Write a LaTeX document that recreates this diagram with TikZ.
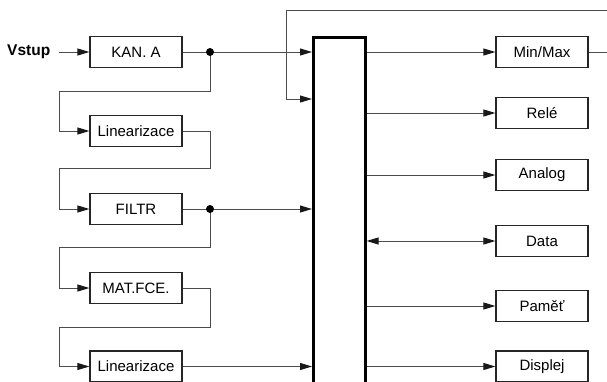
\documentclass[tikz,border=0pt]{standalone}
\usepackage{fontspec}
\setmainfont{Liberation Sans}
\usetikzlibrary{arrows.meta}
\begin{document}
\begin{tikzpicture}[x=1pt,y=-1pt,
  box/.style={draw=black!85, line width=1.2pt, minimum width=92pt, minimum height=31pt, inner sep=0pt, font=\fontsize{15}{18}\selectfont},
  conn/.style={draw=black!70, line width=1pt, -{Triangle[length=12pt,width=7pt,color=black!90]}},
  dot/.style={fill=black, draw=none}]
\useasboundingbox (0,0) rectangle (607,381);
\clip (0,0) rectangle (607,381);
% nodes left
\node[font=\fontsize{15.5}{18}\selectfont\bfseries, anchor=west, inner sep=0pt] (vstup) at (7,52) {Vstup};
\node[box] (kana) at (136,52) {KAN. A};
\node[box] (lin1) at (136,131) {Linearizace};
\node[box] (filtr) at (136,209) {FILTR};
\node[box] (mat) at (136,288) {MAT.FCE.};
\node[box] (lin2) at (136,366.5) {Linearizace};
% bus
\node[draw=black, line width=2.6pt, minimum width=52pt, minimum height=400pt, anchor=north west, inner sep=0pt] (bus) at (312,36) {};
% right boxes
\node[box] (minmax) at (542,52) {Min/Max};
\node[box] (rele) at (542,113) {Relé};
\node[box] (analog) at (542,175) {Analog};
\node[box] (data) at (542,241) {Data};
\node[box] (pamet) at (542,306) {Paměť};
\node[box] (displej) at (542,366.5) {Displej};
% junctions
\coordinate (j1) at (210,52);
\coordinate (j2) at (210,209);
\coordinate (in2) at (286,99);
% connectors left
\draw[conn] ([xshift=9pt]vstup.east) -- (kana.west);
\draw[conn] (kana.east) -- (kana.east -| bus.west);
\draw[conn] (j1) |- (59,91) |- (lin1.west);
\draw[conn] (lin1.east) -| (210,168) -- (59,168) |- (filtr.west);
\draw[conn] (filtr.east) -- (filtr.east -| bus.west);
\draw[conn] (j2) |- (59,247) |- (mat.west);
\draw[conn] (mat.east) -| (210,327) -- (59,327) |- (lin2.west);
\draw[conn] (lin2.east) -- (lin2.east -| bus.west);
\fill[dot] (j1) circle (4pt);
\fill[dot] (j2) circle (4pt);
% feedback
\draw[conn] (minmax.east) -- (625,52) -- (625,10) -| (in2) -- (in2 -| bus.west);
% right connectors
\draw[conn] (minmax.west -| bus.east) -- (minmax.west);
\draw[conn] (rele.west -| bus.east) -- (rele.west);
\draw[conn] (analog.west -| bus.east) -- (analog.west);
\draw[conn, {Triangle[length=12pt,width=7pt,color=black!90]}-{Triangle[length=12pt,width=7pt,color=black!90]}] (data.west -| bus.east) -- (data.west);
\draw[conn] (pamet.west -| bus.east) -- (pamet.west);
\draw[conn] (displej.west -| bus.east) -- (displej.west);
\end{tikzpicture}
\end{document}
